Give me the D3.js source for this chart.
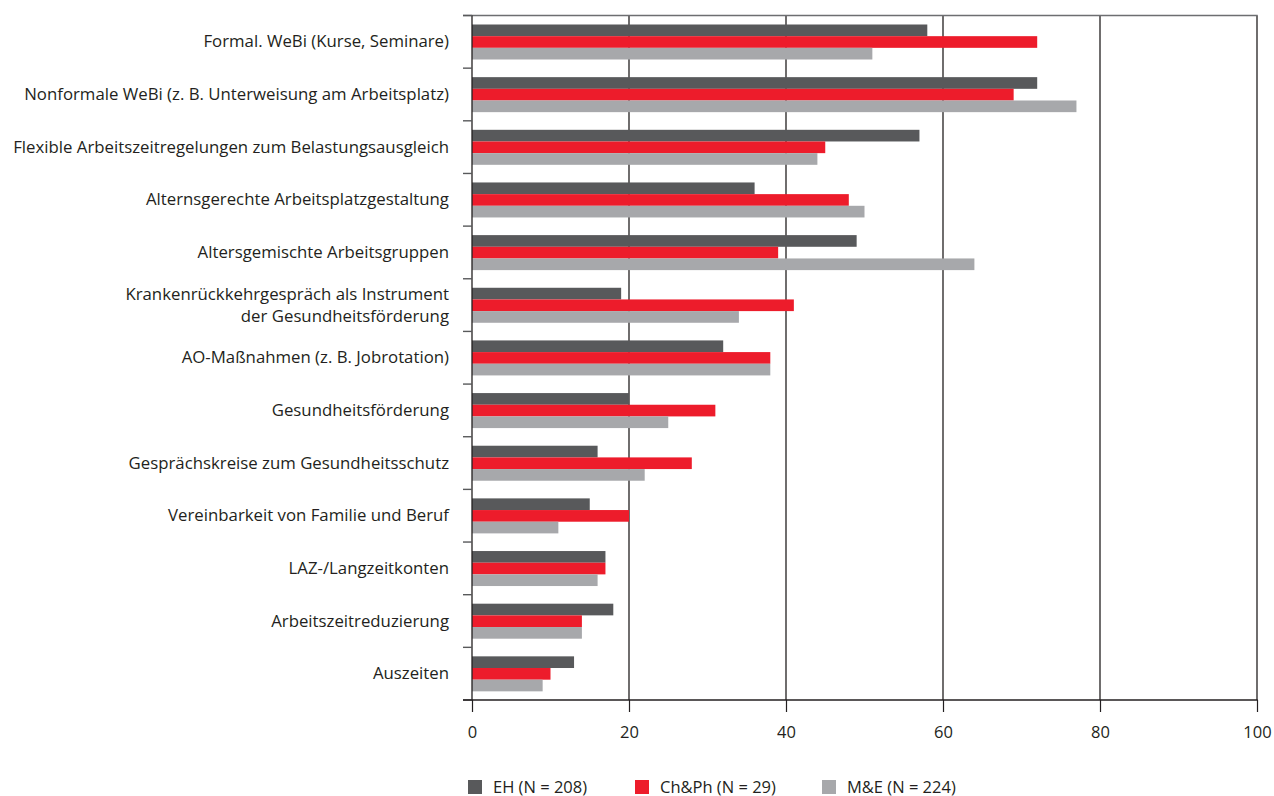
<!DOCTYPE html>
<html>
<head>
<meta charset="utf-8">
<script src="https://cdn.jsdelivr.net/npm/d3@7"></script>
<style>
html,body{margin:0;padding:0;background:#fff;}
text{font-family:"Open Sans",sans-serif;fill:#231f20;}
</style>
</head>
<body>
<svg id="chart" width="1274" height="796"></svg>
<script>
const categories = [
  ["Formal. WeBi (Kurse, Seminare)"],
  ["Nonformale WeBi (z. B. Unterweisung am Arbeitsplatz)"],
  ["Flexible Arbeitszeitregelungen zum Belastungsausgleich"],
  ["Alternsgerechte Arbeitsplatzgestaltung"],
  ["Altersgemischte Arbeitsgruppen"],
  ["Krankenrückkehrgespräch als Instrument", "der Gesundheitsförderung"],
  ["AO-Maßnahmen (z. B. Jobrotation)"],
  ["Gesundheitsförderung"],
  ["Gesprächskreise zum Gesundheitsschutz"],
  ["Vereinbarkeit von Familie und Beruf"],
  ["LAZ-/Langzeitkonten"],
  ["Arbeitszeitreduzierung"],
  ["Auszeiten"]
];
const seriesNames = ["EH (N = 208)", "Ch&Ph (N = 29)", "M&E (N = 224)"];
const seriesColors = ["#58595b", "#ed1c2b", "#a7a8ab"];
const valuesEH   = [58, 72, 57, 36, 49, 19, 32, 20, 16, 15, 17, 18, 13];
const valuesChPh = [72, 69, 45, 48, 39, 41, 38, 31, 28, 20, 17, 14, 10];
const valuesME   = [51, 77, 44, 50, 64, 34, 38, 25, 22, 11, 16, 14,  9];
const xTicks = [0, 20, 40, 60, 80, 100];

const seriesValues = [valuesEH, valuesChPh, valuesME];
const catKeys = categories.map((c, i) => i);

const svg = d3.select("#chart");
const x = d3.scaleLinear().domain([0, 100]).range([472, 1257]);
const y = d3.scaleBand().domain(catKeys).range([15.5, 700]).padding(0);
const sub = d3.scaleBand().domain(d3.range(3)).range([9, 44]).padding(0);

// vertical gridlines
svg.append("g").selectAll("line").data(xTicks.slice(1)).join("line")
  .attr("x1", d => x(d)).attr("x2", d => x(d))
  .attr("y1", 15.5).attr("y2", 700)
  .attr("stroke", "#231f20").attr("stroke-width", 1.3);

// top line
svg.append("line").attr("x1", 463).attr("x2", x(100) + 0.7)
  .attr("y1", 15.5).attr("y2", 15.5)
  .attr("stroke", "#6d6e71").attr("stroke-width", 1.6);

// bars
const groups = svg.append("g").selectAll("g").data(catKeys).join("g")
  .attr("transform", d => `translate(0,${y(d)})`);
groups.selectAll("rect").data(i => seriesValues.map((s, k) => ({k, v: s[i]}))).join("rect")
  .attr("x", x(0))
  .attr("y", d => sub(d.k))
  .attr("width", d => x(d.v) - x(0))
  .attr("height", sub.bandwidth())
  .attr("fill", d => seriesColors[d.k]);

// left axis line and ticks at band boundaries
svg.append("line").attr("x1", x(0)).attr("x2", x(0)).attr("y1", 15.5).attr("y2", 700)
  .attr("stroke", "#231f20").attr("stroke-width", 1.3);
const bounds = catKeys.map(k => y(k)).concat([700]);
svg.append("g").selectAll("line").data(bounds).join("line")
  .attr("x1", 463).attr("x2", x(0))
  .attr("y1", d => d).attr("y2", d => d)
  .attr("stroke", "#58595b").attr("stroke-width", 1.4);

// category labels
const lab = svg.append("g").selectAll("text").data(catKeys).join("text")
  .attr("x", 449)
  .attr("y", d => y(d) + y.bandwidth() / 2)
  .attr("text-anchor", "end")
  .style("font-size", "16.8px");
lab.each(function(i) {
  const lines = categories[i];
  const t = d3.select(this);
  lines.forEach((ln, j) => {
    t.append("tspan").attr("x", 449)
      .attr("dy", j === 0 ? ((-(lines.length - 1) * 11) + 5.5) + "px" : "22px")
      .text(ln);
  });
});

// bottom axis
const xAxis = d3.axisBottom(x).tickValues(xTicks).tickSize(12).tickPadding(14).tickFormat(d3.format("d"));
const gx = svg.append("g").attr("transform", "translate(0,700)").call(xAxis);
gx.select(".domain").remove();
gx.selectAll(".tick line").attr("stroke", "#231f20").attr("stroke-width", 1.2);
gx.selectAll(".tick text").style("font-size", "16.5px").attr("fill", "#231f20").style("font-family", "'Open Sans',sans-serif");
svg.append("line").attr("x1", 463).attr("x2", x(100) + 0.7).attr("y1", 700).attr("y2", 700)
  .attr("stroke", "#231f20").attr("stroke-width", 1.3);

// legend
const legX = [468, 635, 822];
const leg = svg.append("g").selectAll("g").data(seriesNames).join("g")
  .attr("transform", (d, i) => `translate(${legX[i]},780)`);
leg.append("rect").attr("width", 14).attr("height", 14).attr("fill", (d, i) => seriesColors[i]);
leg.append("text").attr("x", 25).attr("y", 12.5).style("font-size", "16.5px").text(d => d);
</script>
</body>
</html>
